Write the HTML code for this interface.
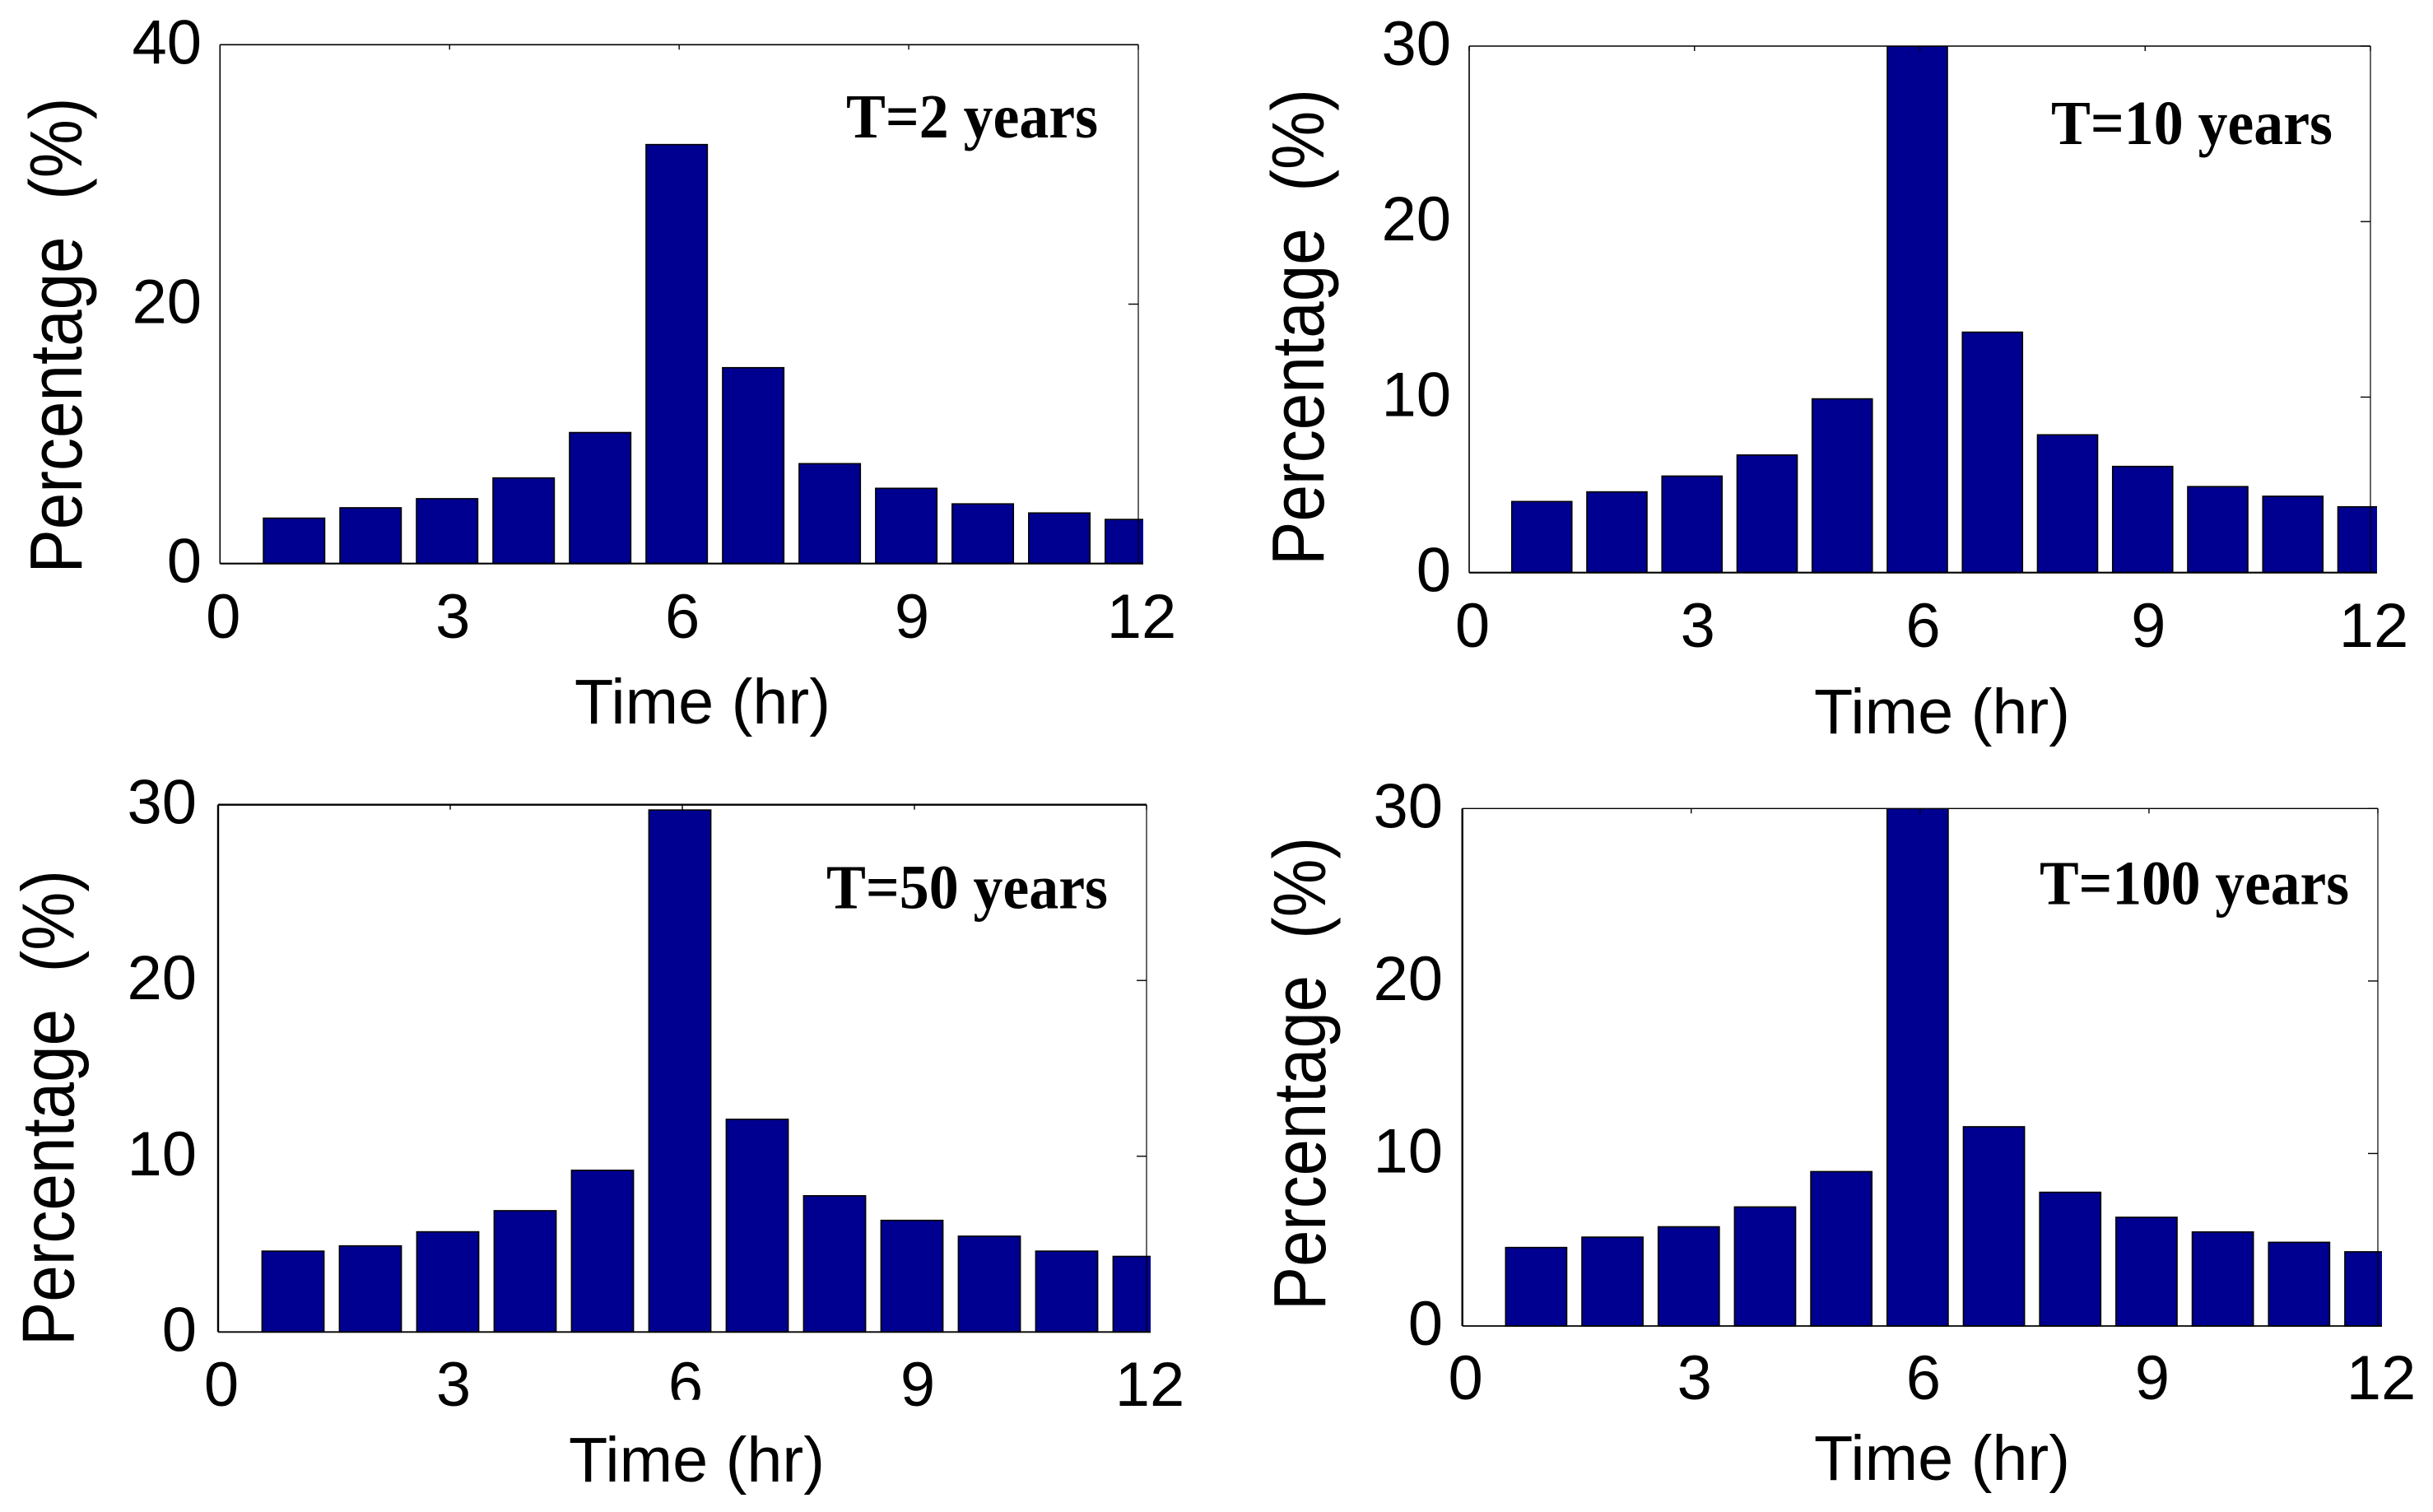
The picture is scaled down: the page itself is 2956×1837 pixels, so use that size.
<!DOCTYPE html>
<html lang="en">
<head>
<meta charset="utf-8">
<title>Rainfall distribution by return period</title>
<style>
html,body{margin:0;padding:0;background:#fff;width:2956px;height:1837px;overflow:hidden}
svg{display:block}
.tick{font-family:"Liberation Sans",sans-serif;font-size:76px;fill:#000}
.axis-title{font-family:"Liberation Sans",sans-serif;fill:#000}
.note{font-family:"Liberation Serif",serif;font-weight:bold;font-size:76px;fill:#000}
</style>
</head>
<body>
<svg id="figure" xmlns="http://www.w3.org/2000/svg" width="2956" height="1837" viewBox="0 0 2956 1837">
<rect x="0" y="0" width="2956" height="1837" fill="#fff"/>
</svg>
<script>
// Chart data
const hours = [1, 2, 3, 4, 5, 6, 7, 8, 9, 10, 11, 12];
const xTickValues = [0, 3, 6, 9, 12];
const xTickLabels = ['0', '3', '6', '9', '12'];
const yTicksT2 = [0, 20, 40];
const yTicksOther = [0, 10, 20, 30];
const valuesT2 = [3.5, 4.3, 5.0, 6.6, 10.1, 32.3, 15.1, 7.7, 5.8, 4.6, 3.9, 3.4];
const valuesT10 = [4.05, 4.6, 5.5, 6.7, 9.9, 30, 13.7, 7.85, 6.05, 4.9, 4.35, 3.75];
const valuesT50 = [4.6, 4.9, 5.7, 6.9, 9.2, 29.7, 12.1, 7.75, 6.35, 5.45, 4.6, 4.3];
const valuesT100 = [4.55, 5.15, 5.75, 6.9, 8.95, 30, 11.55, 7.75, 6.3, 5.45, 4.85, 4.3];

const NS = 'http://www.w3.org/2000/svg';
const figure = document.getElementById('figure');

function make(tag, attrs, parent) {
  const el = document.createElementNS(NS, tag);
  for (const k in attrs) el.setAttribute(k, attrs[k]);
  parent.appendChild(el);
  return el;
}

function drawPanel(p, values, yTicks, yMax, note) {
  const group = make('g', {}, figure);
  
  

  const xScale = v => p.left + (p.right - p.left) * v / 12;
  const yScale = v => p.bottom - (p.bottom - p.top) * v / yMax;
  const unit = xScale(1) - xScale(0);

  const clipId = 'clip-' + p.id;
  const clip = make('clipPath', { id: clipId }, group);
  make('rect', { x: p.left, y: p.top, width: p.clipRight - p.left, height: p.bottom - p.top + 2 }, clip);

  const bars = make('g', { 'clip-path': 'url(#' + clipId + ')' }, group);
  
  
  hours.forEach((h, i) => {
    const top = yScale(values[i]);
    const bar = make('rect', {
      x: xScale(h) + p.barDx - unit * 0.4,
      y: top,
      width: unit * 0.8,
      height: p.bottom - top,
      fill: '#000090',
      stroke: '#000',
      'stroke-width': 1.6
    }, bars);
    
    
  });

  const frameSpec = [
    ['top', p.left, p.top, p.right, p.top, p.frame[0]],
    ['right', p.right, p.top, p.right, p.bottom, p.frame[1]],
    ['bottom', p.left, p.bottom, p.clipRight, p.bottom, p.frame[2]],
    ['left', p.left, p.top, p.left, p.bottom, p.frame[3]]
  ];
  frameSpec.forEach(f => {
    const line = make('line', { x1: f[1], y1: f[2], x2: f[3], y2: f[4], stroke: '#000', 'stroke-width': f[5] }, group);
    
    
  });

  xTickValues.forEach((v, i) => {
    const x = xScale(v);
    const tick = make('line', { x1: x, y1: p.top, x2: x, y2: p.top + 6, stroke: '#000', 'stroke-width': 1.4 }, group);
    
    
    const label = make('text', { class: 'tick', x: x + p.xLabelDx, y: p.xLabelY, 'text-anchor': 'middle' }, group);
    label.textContent = xTickLabels[i];
    
    
  });

  yTicks.forEach(v => {
    const y = yScale(v);
    const tick = make('line', { x1: p.right - 12, y1: y, x2: p.right, y2: y, stroke: '#000', 'stroke-width': 1.4 }, group);
    
    
    const label = make('text', { class: 'tick', x: p.yLabelRight, y: y + 23, 'text-anchor': 'end' }, group);
    label.textContent = String(v);
    
    
  });

  const xTitle = make('text', {
    class: 'axis-title', x: p.xTitle[0], y: p.xTitle[1], 'font-size': 77,
    textLength: p.xTitle[2], lengthAdjust: 'spacingAndGlyphs'
  }, group);
  xTitle.textContent = 'Time (hr)';
  
  

  const yTitle = make('text', {
    class: 'axis-title', x: 0, y: 0, 'font-size': 90,
    textLength: p.yTitle[2], lengthAdjust: 'spacingAndGlyphs',
    transform: 'translate(' + p.yTitle[0] + ' ' + p.yTitle[1] + ') rotate(-90)'
  }, group);
  yTitle.setAttribute('xml:space', 'preserve');
  yTitle.style.whiteSpace = 'pre';
  yTitle.textContent = 'Percentage  (%)';
  
  

  const noteEl = make('text', {
    class: 'note', x: p.note[0], y: p.note[1],
    textLength: p.note[2], lengthAdjust: 'spacingAndGlyphs'
  }, group);
  noteEl.textContent = note;
  
  
}

drawPanel({
  id: 't2', left: 267.3, right: 1383, top: 54.3, bottom: 684.7, clipRight: 1389, barDx: -3,
  frame: [1.6, 1.2, 2.2, 1.6], xLabelDx: 4, xLabelY: 775, yLabelRight: 245,
  xTitle: [698, 879, 311], yTitle: [99, 696.5, 578], note: [1028, 167, 306]
}, valuesT2, yTicksT2, 40, 'T=2 years');

drawPanel({
  id: 't10', left: 1785, right: 2880, top: 56, bottom: 695.7, clipRight: 2888, barDx: -3,
  frame: [1.6, 1.2, 2.2, 1.6], xLabelDx: 4, xLabelY: 786, yLabelRight: 1763,
  xTitle: [2204, 891, 311], yTitle: [1608, 687, 579], note: [2492, 175, 342]
}, valuesT10, yTicksOther, 30, 'T=10 years');

drawPanel({
  id: 't50', left: 265, right: 1393, top: 977.7, bottom: 1618.3, clipRight: 1398, barDx: -3,
  frame: [2.4, 1.2, 1.8, 2.4], xLabelDx: 4, xLabelY: 1708, yLabelRight: 239,
  xTitle: [691, 1800, 311], yTitle: [89.4, 1635, 578], note: [1004, 1103.4, 342]
}, valuesT50, yTicksOther, 30, 'T=50 years');

drawPanel({
  id: 't100', left: 1776.7, right: 2889, top: 982.3, bottom: 1611, clipRight: 2894, barDx: -3,
  frame: [1.4, 1.2, 1.8, 2.4], xLabelDx: 4, xLabelY: 1700, yLabelRight: 1753,
  xTitle: [2204, 1798, 311], yTitle: [1610, 1592, 575], note: [2478, 1098.7, 376]
}, valuesT100, yTicksOther, 30, 'T=100 years');

// The "6" under the T=50 panel is cut off at its base in the source figure.
const labelMask = make('rect', { x: 790, y: 1700.7, width: 80, height: 34, fill: '#fff' }, figure);


</script>
</body>
</html>
